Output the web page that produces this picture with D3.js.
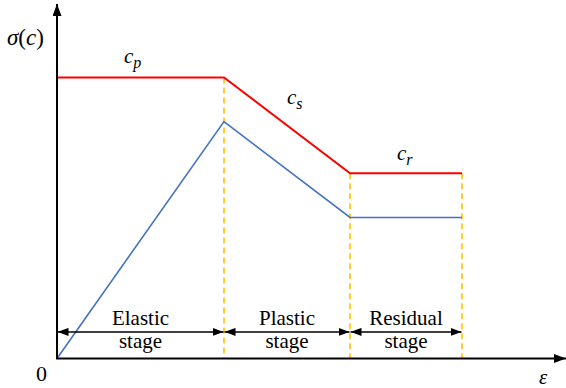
<!DOCTYPE html>
<html>
<head>
<meta charset="utf-8">
<script src="https://cdn.jsdelivr.net/npm/d3@7"></script>
<style>
  html, body { margin: 0; padding: 0; background: #fff; }
  svg { display: block; }
  text { font-family: "Liberation Serif", "Times New Roman", serif; fill: #000; }
</style>
</head>
<body>
<svg id="chart" width="566" height="388"></svg>
<script>
// Strain at the boundaries: origin, end of elastic, end of plastic, end of residual
const strain = [0, 33.4, 58.6, 81];
// Cohesion envelope c (peak cp -> softening cs -> residual cr)
const cohesion = [80.3, 80.3, 52.9, 52.9];
// Stress path sigma
const stress = [0, 67.7, 40.3, 40.3];
// Stage names, each spanning two consecutive strain boundaries
const stages = [["Elastic", "stage"], ["Plastic", "stage"], ["Residual", "stage"]];
// Cohesion labels: symbol, subscript, attached to a segment
const cohesionLabels = [
  { sub: "p", seg: 0 },
  { sub: "s", seg: 1 },
  { sub: "r", seg: 2 }
];
const stageArrowLevel = 7.6;

const svg = d3.select("#chart");
const x = d3.scaleLinear().domain([0, 100]).range([57, 557]);
const y = d3.scaleLinear().domain([0, 100]).range([358.5, 8.5]);

// Arrowhead markers
const defs = svg.append("defs");
function marker(id, w, h) {
  defs.append("marker")
    .attr("id", id)
    .attr("viewBox", `0 0 ${w} ${h}`)
    .attr("refX", w).attr("refY", h / 2)
    .attr("markerWidth", w).attr("markerHeight", h)
    .attr("markerUnits", "userSpaceOnUse")
    .attr("orient", "auto-start-reverse")
    .append("path")
    .attr("d", `M0,0L${w},${h / 2}L0,${h}Z`)
    .attr("fill", "#000");
}
marker("axisHead", 12, 9);
marker("stageHead", 11, 8);

const line = d3.line().x((d, i) => x(strain[i])).y(d => y(d));

// Dashed stage boundaries
svg.append("g").selectAll("line")
  .data(strain.slice(1))
  .join("line")
  .attr("x1", d => x(d)).attr("x2", d => x(d))
  .attr("y1", (d, i) => y(cohesion[i + 1]))
  .attr("y2", y(0))
  .attr("stroke", "#FFC000")
  .attr("stroke-width", 1.6)
  .attr("stroke-dasharray", "6,4");

// Cohesion envelope
svg.append("path")
  .datum(cohesion)
  .attr("d", line)
  .attr("fill", "none")
  .attr("stroke", "#FF0000")
  .attr("stroke-width", 2);

// Stress path
svg.append("path")
  .datum(stress)
  .attr("d", line)
  .attr("fill", "none")
  .attr("stroke", "#4472C4")
  .attr("stroke-width", 1.6);

// Axes
svg.append("line")
  .attr("x1", x(0)).attr("y1", y(0))
  .attr("x2", x(0)).attr("y2", 4)
  .attr("stroke", "#000").attr("stroke-width", 2)
  .attr("marker-end", "url(#axisHead)");
svg.append("line")
  .attr("x1", x(0) - 1).attr("y1", y(0))
  .attr("x2", 566).attr("y2", y(0))
  .attr("stroke", "#000").attr("stroke-width", 2)
  .attr("marker-end", "url(#axisHead)");

// Stage span arrows
const spans = d3.pairs(strain);
svg.append("g").selectAll("line")
  .data(spans)
  .join("line")
  .attr("x1", d => x(d[0]) + 0.5).attr("x2", d => x(d[1]) - 0.5)
  .attr("y1", y(stageArrowLevel)).attr("y2", y(stageArrowLevel))
  .attr("stroke", "#000").attr("stroke-width", 1.5)
  .attr("marker-start", "url(#stageHead)")
  .attr("marker-end", "url(#stageHead)");

// Stage names
const stageText = svg.append("g").selectAll("text")
  .data(spans)
  .join("text")
  .attr("text-anchor", "middle")
  .attr("font-size", 21);
stageText.append("tspan")
  .attr("x", d => (x(d[0]) + x(d[1])) / 2)
  .attr("y", y(stageArrowLevel) - 7)
  .text((d, i) => stages[i][0]);
stageText.append("tspan")
  .attr("x", d => (x(d[0]) + x(d[1])) / 2)
  .attr("y", y(stageArrowLevel) + 16.5)
  .text((d, i) => stages[i][1]);

// Cohesion labels above each segment
const labelPos = [
  { x: 124, y: 63 },
  { x: 287, y: 104 },
  { x: 397, y: 160 }
];
svg.append("g").selectAll("text")
  .data(cohesionLabels)
  .join("text")
  .attr("x", (d, i) => labelPos[i].x)
  .attr("y", (d, i) => labelPos[i].y)
  .attr("font-size", 21)
  .attr("font-style", "italic")
  .call(t => {
    t.append("tspan").text("c");
    t.append("tspan").attr("dy", 5).attr("font-size", 16).text(d => d.sub);
  });

// Axis titles
const yt = svg.append("text").attr("x", 7).attr("y", 45).attr("font-size", 23);
yt.append("tspan").attr("font-style", "italic").text("σ");
yt.append("tspan").text("(");
yt.append("tspan").attr("font-style", "italic").text("c");
yt.append("tspan").text(")");

svg.append("text").attr("x", 539).attr("y", 384)
  .attr("font-size", 21).attr("font-style", "italic").text("ε");

svg.append("text").attr("x", 36).attr("y", 380.5)
  .attr("font-size", 22).text("0");
</script>
</body>
</html>
